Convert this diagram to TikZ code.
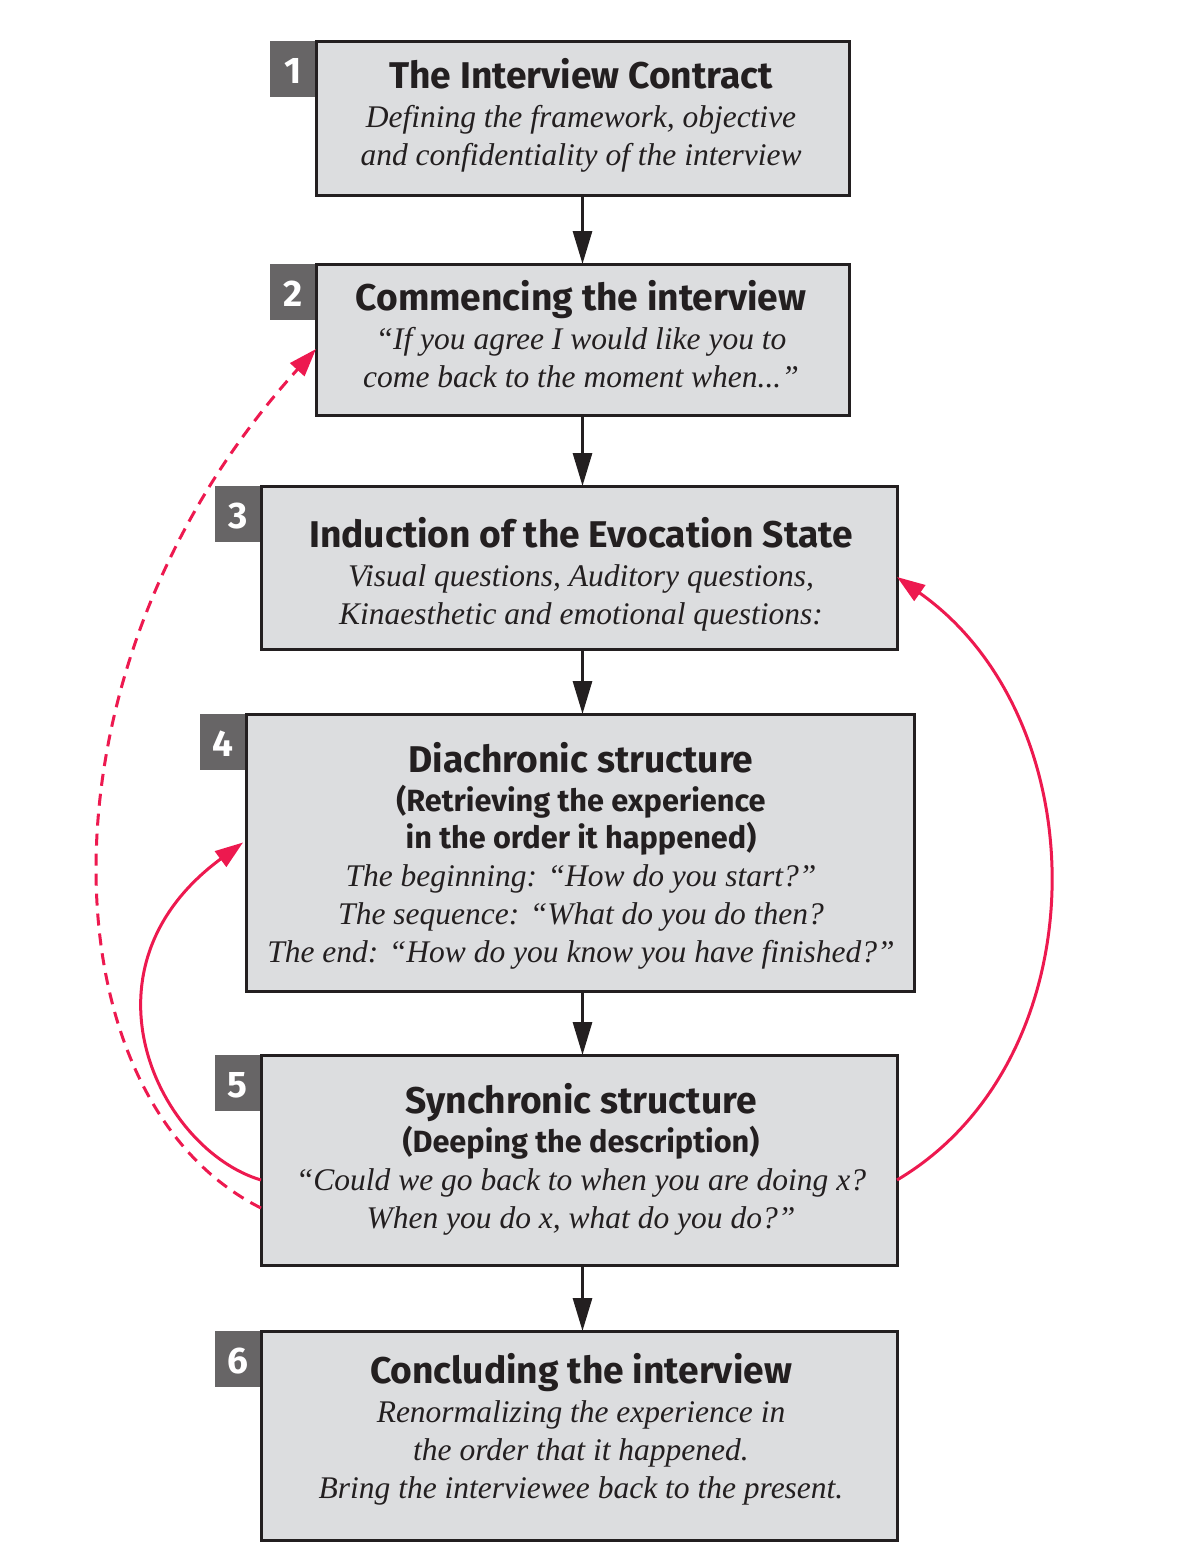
\documentclass[tikz,border=0pt]{standalone}
\usepackage{fontspec}
\setmainfont{Liberation Serif}
\setsansfont{Fira Sans}
\usetikzlibrary{arrows.meta,calc}
\definecolor{boxfill}{RGB}{220,221,223}
\definecolor{boxline}{RGB}{35,31,32}
\definecolor{numfill}{RGB}{103,101,102}
\definecolor{crimson}{RGB}{237,25,79}
\newcommand{\ttlfont}{\sffamily\bfseries\fontsize{37.2}{38}\selectfont}
\newcommand{\subfont}{\sffamily\bfseries\fontsize{30.7}{38}\selectfont}
\newcommand{\itlfont}{\itshape\fontsize{31.5}{38}\selectfont}
\tikzset{
  stagebox/.style={draw=boxline, fill=boxfill, line width=3pt, inner sep=0pt, outer sep=0pt},
  numtag/.style={fill=numfill, text=white, font=\sffamily\bfseries\fontsize{37}{37}\selectfont,
    minimum width=46pt, text height=42pt, text depth=14pt, inner sep=0pt, anchor=north east},
  stagetext/.style={align=center, inner sep=0pt, anchor=north, text=boxline, font=\fontsize{31}{38}\selectfont},
  flowarrow/.style={draw=boxline, line width=3pt, -{Triangle[length=33pt,width=19pt]}},
  redarrow/.style={draw=crimson, line width=3pt, -{Triangle[length=28pt,width=19pt]}},
}
\begin{document}
\begin{tikzpicture}[x=1pt,y=-1pt]
\useasboundingbox (0,0) rectangle (1183,1564);
% number tags (drawn first so box borders overlap)
\coordinate (p1) at (316,41);
\coordinate (p2) at (316,264);
\coordinate (p3) at (261,486);
\coordinate (p4) at (246,714);
\coordinate (p5) at (261,1055);
\coordinate (p6) at (261,1331);
\node[numtag] (n1) at (p1) {1};
\node[numtag] (n2) at (p2) {2};
\node[numtag] (n3) at (p3) {3};
\node[numtag] (n4) at (p4) {4};
\node[numtag] (n5) at (p5) {5};
\node[numtag] (n6) at (p6) {6};
% boxes
\node[stagebox, minimum width=533pt, minimum height=154pt] (b1) at (582.5,118) {};
\node[stagebox, minimum width=533pt, minimum height=151pt] (b2) at (582.5,339.5) {};
\node[stagebox, minimum width=636pt, minimum height=163pt] (b3) at (579,567.5) {};
\node[stagebox, minimum width=668pt, minimum height=277pt] (b4) at (580,852.5) {};
\node[stagebox, minimum width=636pt, minimum height=210pt] (b5) at (579,1160) {};
\node[stagebox, minimum width=636pt, minimum height=209pt] (b6) at (579,1435.5) {};
% texts
\node[stagetext] (t1) at (581,58) {{\ttlfont The Interview Contract}\\[1pt]
  {\itlfont Defining the framework, objective}\\
  {\itlfont and confidentiality of the interview}};
\node[stagetext] (t2) at (581,280) {{\ttlfont Commencing the interview}\\[1pt]
  {\itlfont “If you agree I would like you to}\\
  {\itlfont come back to the moment when...”}};
\node[stagetext] (t3) at (581,517) {{\ttlfont Induction of the Evocation State}\\[1pt]
  {\itlfont Visual questions, Auditory questions,}\\
  {\itlfont Kinaesthetic and emotional questions:}};
\node[stagetext] (t4) at (581,742) {{\ttlfont Diachronic structure}\\[1pt]
  {\subfont (Retrieving the experience}\\[-1pt]
  {\subfont in the order it happened)}\\
  {\itlfont The beginning: “How do you start?”}\\
  {\itlfont The sequence: “What do you do then?}\\
  {\itlfont The end: “How do you know you have finished?”}};
\node[stagetext] (t5) at (581,1083) {{\ttlfont Synchronic structure}\\[1pt]
  {\subfont (Deeping the description)}\\
  {\itlfont “Could we go back to when you are doing x?}\\
  {\itlfont When you do x, what do you do?”}};
\node[stagetext] (t6) at (581,1353) {{\ttlfont Concluding the interview}\\[1pt]
  {\itlfont Renormalizing the experience in}\\
  {\itlfont the order that it happened.}\\
  {\itlfont Bring the interviewee back to the present.}};
% flow arrows
\draw[flowarrow] (b1.south) -- (b2.north);
\draw[flowarrow] (b2.south) -- (b2.south |- b3.north);
\draw[flowarrow] (b3.south -| b2.south) -- (b2.south |- b4.north);
\draw[flowarrow] (b4.south -| b2.south) -- (b2.south |- b5.north);
\draw[flowarrow] (b5.south -| b2.south) -- (b2.south |- b6.north);
% feedback arrows
\draw[redarrow, dash pattern=on 12pt off 8pt] ($(b5.west)+(0,48)$) .. controls (45,1100) and (25,670) .. ($(b2.west)+(0,9.5)$);
\draw[redarrow] ($(b5.west)+(0,20)$) .. controls (160,1150) and (70,970) .. ($(b4.west)+(-3,-10)$);
\draw[redarrow] ($(b5.east)+(0,20)$) .. controls (1100,1060) and (1100,720) .. ($(b3.east)+(0,9.5)$);
\end{tikzpicture}
\end{document}
